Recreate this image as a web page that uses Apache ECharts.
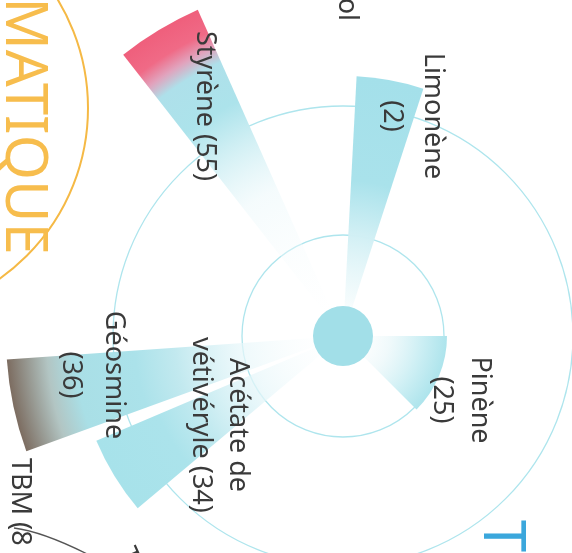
<!DOCTYPE html>
<html><head><meta charset="utf-8">
<style>html,body{margin:0;padding:0;background:#fff}#c{width:572px;height:553px}</style>
<script src="https://cdn.jsdelivr.net/npm/echarts@6/dist/echarts.min.js"></script>
</head><body><div id="c"></div>
<script>
// ---- data ----
const labels = ['Limonène', 'Pinène', 'Acétate de vétivéryle', 'Géosmine', 'Styrène'];
const counts = [2, 25, 34, 36, 55];
const reach = [260, 104, 268, 337, 357];      // radial length (radius axis units)
const angleFrom = [3, 90, 230, 250, 322];     // degrees, clockwise from north
const angleTo = [18, 135, 247, 266, 336];
const rings = [101, 230];
const hubSize = [30];

// ---- layout / style (not data) ----
const labelText = ['Limonène\n(2)', 'Pinène\n(25)', 'Acétate de\nvétivéryle (34)', 'Géosmine\n(36)', 'Styrène (55)'];
const labelPos = [[412, 116], [461, 400], [219, 425], [92, 375], [205, 106]];
const labelLine = [41, 38, 37, 43, 30];
const CY = 'rgba(164,225,235,1)';
const fades = [
  [[0,'rgba(255,255,255,0)'],[0.15,'rgba(235,248,250,0.6)'],[0.4,'#d0eff4'],[0.6,'#a9e2eb'],[1,'#a4e0ea']],
  [[0,'rgba(255,255,255,0)'],[0.45,'rgba(236,248,250,0.8)'],[0.75,'#cdeff4'],[1,'#ade4ec']],
  [[0,'rgba(255,255,255,0)'],[0.35,'rgba(232,247,250,0.7)'],[0.6,'#c3eaf0'],[0.75,'#abe3eb'],[1,'#a7e2ea']],
  [[0,'rgba(255,255,255,0)'],[0.3,'rgba(232,247,250,0.7)'],[0.5,'#c2e9ef'],[0.62,'#abe2ea'],[0.8,'#a9dfe6'],[0.88,'#b2c5c3'],[1,'#7c6c60']],
  [[0,'rgba(255,255,255,0)'],[0.45,'rgba(238,249,251,0.6)'],[0.62,'#cdeef3'],[0.72,'#ace3eb'],[0.84,'#aee0ea'],[0.885,'#e1a3bd'],[0.93,'#f06a86'],[1,'#ef5f7c']]
];
const textColor = '#3a3a3a';
const FONT = '"Noto Sans", "Open Sans", sans-serif';

function center(params) { return [params.coordSys.cx, params.coordSys.cy]; }

const chart = echarts.init(document.getElementById('c'));
chart.setOption({
  backgroundColor: '#ffffff',
  animation: false,
  polar: { center: [343, 336], radius: 360 },
  angleAxis: { type: 'value', min: 0, max: 360, startAngle: 90, clockwise: true,
    axisLine: {show: false}, axisTick: {show: false}, axisLabel: {show: false}, splitLine: {show: false} },
  radiusAxis: { type: 'value', min: 0, max: 360,
    axisLine: {show: false}, axisTick: {show: false}, axisLabel: {show: false}, splitLine: {show: false} },
  series: [
    {
      type: 'custom', coordinateSystem: 'polar', z: 1, silent: true,
      data: rings.map(r => [r, 0]),
      encode: { radius: 0, angle: 1 },
      renderItem: function (params, api) {
        const [cx, cy] = center(params);
        const p = api.coord([api.value(0), api.value(1)]);
        const r = Math.hypot(p[0] - cx, p[1] - cy);
        return { type: 'circle', shape: { cx, cy, r }, style: { fill: 'none', stroke: '#aee5ed', lineWidth: 1.3 } };
      }
    },
    {
      type: 'custom', coordinateSystem: 'polar', z: 2, silent: true,
      data: labels.map((n, i) => [reach[i], angleFrom[i], angleTo[i], counts[i]]),
      encode: { radius: 0, angle: [1, 2] },
      renderItem: function (params, api) {
        const i = params.dataIndex;
        const [cx, cy] = center(params);
        const pA = api.coord([api.value(0), api.value(1)]);
        const pB = api.coord([api.value(0), api.value(2)]);
        const r = Math.hypot(pA[0] - cx, pA[1] - cy);
        let a0 = Math.atan2(pA[1] - cy, pA[0] - cx);
        let a1 = Math.atan2(pB[1] - cy, pB[0] - cx);
        if (a1 < a0) a1 += Math.PI * 2;
        return {
          type: 'group',
          children: [
            { type: 'sector', shape: { cx, cy, r0: 0, r, startAngle: a0, endAngle: a1, clockwise: true },
              style: { fill: { type: 'radial', x: cx, y: cy, r: r, global: true,
                colorStops: fades[i].map(s => ({ offset: s[0], color: s[1] })) } } },
            { type: 'text', x: labelPos[i][0], y: labelPos[i][1], rotation: -Math.PI / 2, z2: 10,
              style: { text: labelText[i], fill: textColor, font: '27px ' + FONT,
                align: 'center', verticalAlign: 'middle', lineHeight: labelLine[i] } }
          ]
        };
      }
    },
    {
      type: 'custom', coordinateSystem: 'polar', z: 3, silent: true,
      data: hubSize.map(r => [r, 0]),
      encode: { radius: 0, angle: 1 },
      renderItem: function (params, api) {
        const [cx, cy] = center(params);
        const p = api.coord([api.value(0), api.value(1)]);
        const r = Math.hypot(p[0] - cx, p[1] - cy);
        return { type: 'circle', shape: { cx, cy, r }, style: { fill: '#a2dfe8' } };
      }
    }
  ],
  graphic: [
    { type: 'circle', z: 0, shape: { cx: -121, cy: 108, r: 209 }, style: { fill: 'none', stroke: '#f5b945', lineWidth: 2 } },
    { type: 'text', x: 23, y: 126, rotation: -Math.PI / 2, style: { text: 'MATIQUE', fill: '#f7bd4d', font: '58px ' + FONT, align: 'center', verticalAlign: 'middle' } },
    { type: 'text', x: 347, y: 21, rotation: -Math.PI / 2, style: { text: 'ol', fill: textColor, font: '27px ' + FONT, align: 'right', verticalAlign: 'middle' } },
    { type: 'text', x: 20, y: 458, rotation: -Math.PI / 2, style: { text: 'TBM (8', fill: textColor, font: '27px ' + FONT, align: 'left', verticalAlign: 'middle' } },
    { type: 'bezierCurve', shape: { x1: 14, y1: 528, cpx1: 45, cpy1: 532, x2: 95, y2: 558 }, style: { fill: 'none', stroke: '#555555', lineWidth: 1.3 } },
    { type: 'text', x: 128, y: 556, rotation: -1.15, style: { text: 'T', fill: textColor, font: '27px ' + FONT, align: 'center', verticalAlign: 'middle' } },
    { type: 'text', x: 501, y: 536, rotation: -Math.PI / 2, style: { text: 'T', fill: '#3ba7dc', font: '58px ' + FONT, align: 'center', verticalAlign: 'middle' } }
  ]
});
</script></body></html>
